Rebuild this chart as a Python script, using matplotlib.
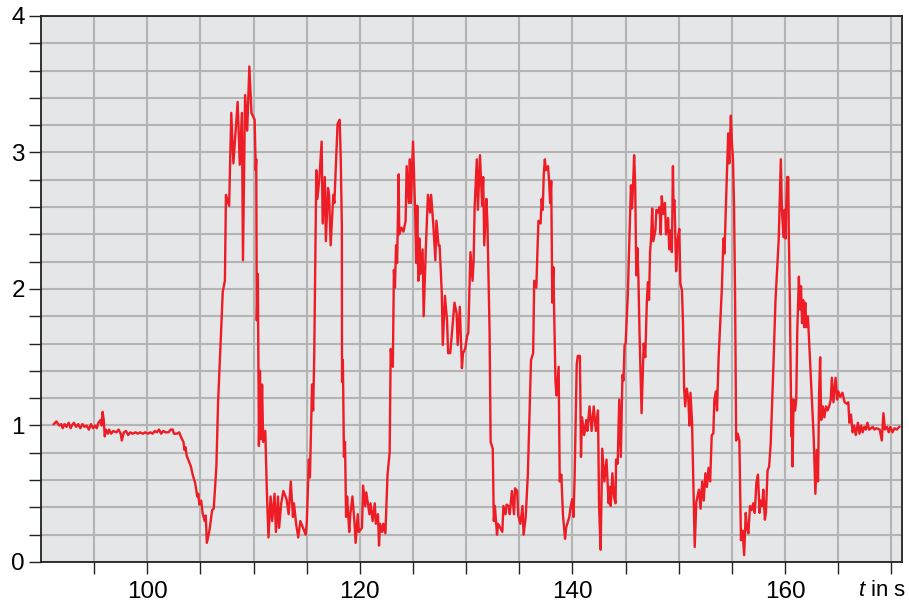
import numpy as np
import matplotlib
matplotlib.use("Agg")
import matplotlib.pyplot as plt
from matplotlib.ticker import FixedLocator

# signal (time in s, value)
t = [
    91.2, 91.45, 91.7, 91.9, 92.04, 92.2, 92.4, 92.6, 92.8, 92.9, 93.1, 93.3, 93.5, 93.7, 93.9,
    94.1, 94.3, 94.5, 94.7, 94.9, 95.07, 95.25, 95.4, 95.6, 95.7, 95.8, 95.9, 96.0, 96.1, 96.3,
    96.4, 96.6, 96.8, 97.1, 97.3, 97.5, 97.6, 97.8, 98.0, 98.2, 98.4, 98.6, 98.9, 99.1, 99.3,
    99.6, 99.8, 100.06, 100.3, 100.5, 100.7, 100.9, 101.1, 101.3, 101.5, 101.7, 102.0, 102.2,
    102.4, 102.5, 102.8, 103.0, 103.2, 103.4, 103.5, 103.6, 103.7, 103.9, 104.1, 104.3, 104.5,
    104.7, 104.8, 104.9, 105.07, 105.2, 105.4, 105.5, 105.6, 105.8, 105.9, 106.1, 106.25, 106.5,
    106.66, 107.1, 107.3, 107.4, 107.7, 107.9, 108.1, 108.5, 108.7, 108.9, 109.0, 109.2, 109.4,
    109.6, 109.8, 110.1, 110.2, 110.25, 110.3, 110.4, 110.5, 110.6, 110.7, 110.8, 110.9, 111.1,
    111.25, 111.4, 111.6, 111.75, 111.97, 112.1, 112.3, 112.4, 112.6, 112.8, 113.1, 113.3,
    113.5, 113.7, 113.8, 114.0, 114.2, 114.4, 114.6, 114.9, 115.0, 115.2, 115.3, 115.5, 115.6,
    115.7, 115.9, 116.0, 116.2, 116.3, 116.4, 116.5, 116.7, 116.8, 117.0,
    117.1, 117.25, 117.5, 117.6, 117.9, 118.1, 118.2, 118.3, 118.32, 118.4, 118.5, 118.6, 118.7,
    118.8, 119.0, 119.1, 119.3, 119.5, 119.6, 119.8, 119.9, 120.2, 120.3, 120.5, 120.6, 120.9,
    121.0, 121.2, 121.4, 121.5, 121.7, 121.8, 121.9, 122.1, 122.2, 122.4, 122.6, 122.8, 122.9,
    123.1, 123.2, 123.3, 123.4, 123.5, 123.65, 123.7, 123.9, 124.1, 124.3, 124.4, 124.6, 124.7,
    124.8, 125.0, 125.2, 125.3, 125.4, 125.5, 125.6, 125.7, 125.9, 126.0, 126.2, 126.3, 126.4,
    126.6, 126.7, 126.9, 127.1, 127.2, 127.4, 127.5, 127.7, 127.8, 128.0, 128.2, 128.3, 128.5,
    128.9, 129.1, 129.2, 129.4, 129.6, 129.7, 129.9, 130.1, 130.2,
    130.4, 130.6, 130.7, 130.8, 131.0, 131.1, 131.2, 131.3, 131.5, 131.6, 131.7, 131.9, 132.0,
    132.2, 132.3, 132.5, 132.6, 132.7, 132.9, 133.0, 133.2, 133.4, 133.5, 133.7, 133.8, 134.0,
    134.1, 134.3, 134.5, 134.6, 134.8, 134.9, 135.1, 135.3, 135.4, 135.6, 135.8, 136.1, 136.3,
    136.4, 136.6, 136.7, 136.8, 137.0, 137.1, 137.2, 137.3, 137.4, 137.5, 137.7, 137.8, 137.9,
    138.0, 138.1, 138.2, 138.4, 138.5, 138.7, 138.8, 138.95, 139.1, 139.3, 139.4, 139.7, 139.8,
    139.97, 140.1, 140.2, 140.4, 140.5, 140.7, 140.8, 140.9, 141.1, 141.3, 141.4, 141.6, 141.8,
    142.0, 142.2, 142.4, 142.5, 142.65, 142.8, 143.0, 143.2, 143.4,
    143.5, 143.6, 143.75, 143.9, 144.05, 144.1, 144.25, 144.4, 144.55, 144.7, 144.8, 144.9,
    145.0, 145.2, 145.35, 145.5, 145.6, 145.7, 145.8, 145.9, 146.0, 146.1, 146.2, 146.3, 146.5,
    146.7, 146.85, 147.0, 147.1, 147.2,
    147.3, 147.4, 147.5, 147.6, 147.8, 147.9, 148.05, 148.2, 148.3, 148.4, 148.55, 148.7, 148.8,
    149.0, 149.1, 149.2, 149.35, 149.45, 149.5, 149.6, 149.75, 149.9, 150.05, 150.15, 150.3,
    150.4, 150.5, 150.6, 150.75, 150.9, 151.0, 151.1, 151.25, 151.5, 151.65, 151.9, 152.05,
    152.2, 152.35, 152.5, 152.65, 152.8, 152.95, 153.1, 153.25, 153.35, 153.5, 153.6, 153.75,
    153.9, 154.05, 154.2, 154.3, 154.45, 154.65, 154.75, 154.9, 155.0, 155.1, 155.2, 155.3,
    155.4, 155.55, 155.7, 155.85, 156.0, 156.15, 156.3, 156.4, 156.55, 156.7, 156.85, 157.0,
    157.15, 157.3, 157.45, 157.6, 157.7, 157.85, 157.95, 158.1, 158.2, 158.35, 158.5, 158.65,
    158.9, 159.1, 159.2, 159.4, 159.6, 159.7, 159.85, 159.95, 160.05, 160.1, 160.2, 160.3,
    160.35, 160.45, 160.5, 160.6, 160.65, 160.7, 160.8, 160.95, 161.05, 161.15, 161.25, 161.3,
    161.4, 161.5, 161.6, 161.7, 161.8, 161.9, 162.0, 162.15, 162.3, 162.5, 162.7, 162.85, 163.0,
    163.1, 163.2, 163.3, 163.4, 163.55, 163.7, 163.85, 164.0, 164.15, 164.3, 164.4, 164.55,
    164.75, 164.9, 165.0, 165.2, 165.4, 165.6, 165.8, 165.95, 166.05, 166.2, 166.35, 166.5,
    166.65, 166.85, 167.0, 167.15, 167.3, 167.45, 167.6, 167.75, 167.9, 168.1, 168.25, 168.4,
    168.6, 168.9, 169.1, 169.25, 169.4, 169.6, 169.75, 169.9, 170.1, 170.3, 170.5, 170.75,
]
v = [
    1.01, 1.03, 1.00, 1.01, 0.98, 1.01, 0.99, 1.02, 0.98, 1.00, 1.02, 0.99, 1.01, 0.98, 1.01,
    0.99, 1.00, 0.97, 1.01, 0.98, 1.00, 0.98, 1.02, 1.04, 1.00, 1.10, 1.04, 0.92, 0.97, 0.94,
    0.97, 0.94, 0.96, 0.95, 0.97, 0.94, 0.89, 0.95, 0.96, 0.93, 0.95, 0.94, 0.95, 0.94, 0.95,
    0.94, 0.95, 0.94, 0.95, 0.94, 0.96, 0.95, 0.97, 0.94, 0.96, 0.95, 0.95, 0.97,
    0.97, 0.94, 0.94, 0.95, 0.91, 0.88, 0.82, 0.84, 0.78, 0.74, 0.70, 0.63, 0.58,
    0.48, 0.50, 0.42, 0.45, 0.36, 0.30, 0.34, 0.14, 0.21, 0.26, 0.38, 0.39, 0.70,
    1.17, 1.98, 2.06, 2.69, 2.61, 3.29, 2.92, 3.37, 2.91, 3.29, 2.21, 3.42, 3.16,
    3.63, 3.29, 3.24, 2.87, 2.95, 1.77, 2.11, 0.85, 1.40, 0.90, 1.30, 0.88, 0.96,
    0.51, 0.18, 0.48, 0.30, 0.50, 0.22, 0.48, 0.25, 0.43, 0.52, 0.46, 0.35,
    0.59, 0.33, 0.43, 0.28, 0.18, 0.30, 0.26, 0.20, 0.28, 0.75, 0.62, 1.30, 1.11,
    1.48, 2.87, 2.66, 2.82, 2.95, 3.08, 2.48, 2.82, 2.35, 2.74,
    2.69, 2.32, 2.69, 2.63, 3.21, 3.24, 2.95, 2.48, 1.32, 1.48, 0.77, 0.88, 0.33,
    0.48, 0.22, 0.35, 0.48, 0.28, 0.14, 0.35, 0.22, 0.25, 0.56, 0.41, 0.51, 0.35,
    0.43, 0.30, 0.43, 0.28, 0.35, 0.12, 0.28, 0.22, 0.28, 0.21, 0.64, 0.80, 1.56,
    1.43, 2.14, 2.01, 2.32, 2.19, 2.84, 2.40, 2.45, 2.42, 2.50, 2.90, 2.63, 2.95,
    2.63, 3.08, 2.56, 2.19, 2.61, 2.06, 2.37, 2.11, 2.29, 1.80, 2.29, 2.50, 2.69,
    2.56, 2.69, 2.48, 2.21, 2.50, 2.32, 2.32, 1.98, 1.59, 1.95, 1.77, 1.53, 1.53,
    1.90, 1.82, 1.59, 1.87, 1.42, 1.53, 1.56, 1.66, 1.68,
    2.27, 2.06, 2.21, 2.61, 2.95, 2.58, 2.79, 2.98, 2.61, 2.82, 2.32, 2.66, 2.48,
    1.69, 0.88, 0.83, 0.30, 0.41, 0.20, 0.28, 0.25, 0.22, 0.41, 0.35, 0.42, 0.41,
    0.35, 0.52, 0.35, 0.54, 0.52, 0.34, 0.28, 0.41, 0.20, 0.33, 0.64, 1.48, 1.53,
    2.06, 2.01, 2.27, 2.50, 2.48, 2.66, 2.58, 2.84, 2.95, 2.87, 2.90, 2.79, 2.63,
    2.79, 1.90, 2.16, 1.32, 1.22, 1.43, 0.59, 0.64, 0.35, 0.17, 0.25, 0.33, 0.39,
    0.46, 0.33, 0.62, 1.45, 1.51, 1.51, 0.77, 1.06, 0.93, 1.04, 0.96, 1.14, 0.96,
    1.14, 0.96, 1.11, 0.41, 0.09, 0.83, 0.59, 0.75, 0.43,
    0.55, 0.41, 0.65, 0.48, 0.43, 0.75, 0.72, 1.19, 0.77, 1.37, 1.33, 1.59,
    1.60, 1.95, 2.35, 2.76, 2.59, 2.76, 2.98, 2.77, 2.10, 2.30, 2.09, 1.70, 1.09,
    1.60, 1.50, 1.92, 2.05, 1.92,
    2.27, 2.38, 2.59, 2.35, 2.43, 2.58, 2.56, 2.60, 2.40, 2.68, 2.55, 2.63, 2.40,
    2.52, 2.29, 2.43, 2.27, 2.90, 2.63, 2.65, 2.13, 2.36, 2.44, 2.04, 1.99,
    1.74, 1.28, 1.14, 1.27, 1.19, 1.00, 1.24, 1.02, 0.11, 0.44, 0.53, 0.39,
    0.59, 0.45, 0.65, 0.55, 0.69, 0.59, 0.93, 0.94, 1.19, 1.25, 1.11, 1.50,
    1.75, 2.00, 2.37, 2.26, 2.65, 3.14, 2.92, 3.27, 3.07, 2.95, 2.60, 1.92,
    0.89, 0.94, 0.89, 0.16, 0.23, 0.05, 0.36, 0.26, 0.21, 0.41, 0.38, 0.43,
    0.36, 0.58, 0.64, 0.36, 0.45, 0.41, 0.53, 0.31, 0.36, 0.67, 0.70, 0.87,
    1.43, 1.92, 2.07, 2.36, 2.95, 2.58, 2.38, 2.58, 2.37, 2.58, 2.82, 2.82,
    2.41, 1.92, 1.55, 0.92, 1.19, 0.70, 1.19, 1.11, 1.19, 1.70, 1.95, 2.09,
    1.85, 2.02, 1.75, 1.92, 1.72, 1.90, 1.72, 1.80, 1.55, 1.20, 0.90, 0.50, 0.82,
    0.59, 1.24, 1.50, 1.04, 1.14, 1.06, 1.14, 1.11, 1.14, 1.19, 1.35, 1.17,
    1.35, 1.19, 1.25, 1.21, 1.24, 1.17, 1.16, 1.17, 1.02, 1.08, 0.95, 1.00,
    0.93, 1.02, 0.94, 1.00, 0.95, 0.99, 0.97, 1.02, 0.97, 0.98, 0.99, 0.97,
    0.98, 0.97, 0.89, 1.09, 0.97, 0.99, 0.95, 0.99, 0.95, 0.98, 0.97, 0.99,
]

x_ticks = list(range(95, 171, 5))
x_labels = ["", "100", "", "", "", "120", "", "", "", "140", "", "", "", "160", "", ""]
y_ticks = [round(0.2 * i, 1) for i in range(21)]
y_labels = [str(int(y)) if float(y).is_integer() else "" for y in y_ticks]

plt.rcParams["font.family"] = ["Liberation Sans", "DejaVu Sans"]
plt.rcParams["mathtext.fontset"] = "custom"
plt.rcParams["mathtext.it"] = "Liberation Sans:italic"
plt.rcParams["mathtext.rm"] = "Liberation Sans"

fig = plt.figure(figsize=(9.09, 6.01), dpi=100)
ax = fig.add_axes([0.0451, 0.0649, 0.9472, 0.9085])
ax.set_facecolor("#e5e6e8")

ax.plot(t, v, color="#ee1c25", lw=1.7, solid_joinstyle="round")

ax.set_xlim(90, 171)
ax.set_ylim(0, 4)
ax.xaxis.set_major_locator(FixedLocator(x_ticks))
ax.set_xticklabels(x_labels)
ax.yaxis.set_major_locator(FixedLocator(y_ticks))
ax.set_yticklabels(y_labels)
ax.tick_params(direction="out", length=8.5, width=1.0, color="#222222",
               labelsize=17.5, pad=3)
ax.tick_params(axis="x", pad=5)

ax.set_axisbelow(True)
ax.grid(True, color="#b4b4b4", lw=1.5)
for sp in ax.spines.values():
    sp.set_color("#222222")
    sp.set_linewidth(1.3)

fig.text(0.944, 0.017, "$t$ in s", fontsize=16, ha="left", va="center")

fig.savefig("out.png", dpi=100)
